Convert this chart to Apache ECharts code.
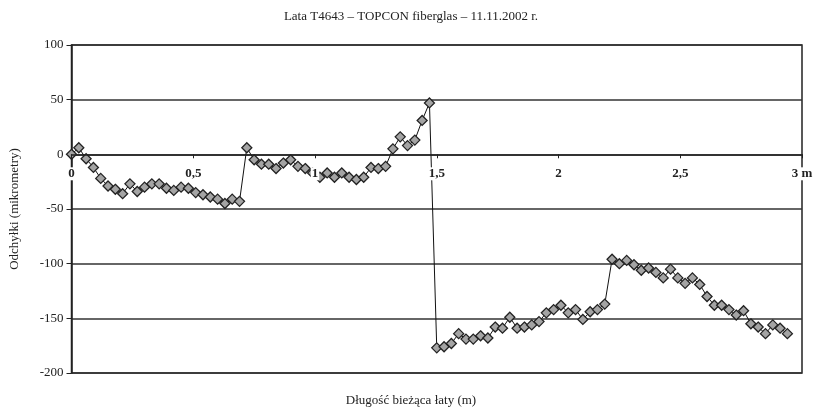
<!DOCTYPE html>
<html>
<head>
<meta charset="utf-8">
<script src="https://cdn.jsdelivr.net/npm/echarts@6/dist/echarts.min.js"></script>
<style>
  html, body { margin: 0; padding: 0; background: #fff; }
  #chart { width: 822px; height: 414px; }
</style>
</head>
<body>
<div id="chart"></div>
<script>
// pozycja na łacie (m)
var positions = [
  0, 0.03, 0.06, 0.09, 0.12, 0.15, 0.18, 0.21, 0.24, 0.27,
  0.30, 0.33, 0.36, 0.39, 0.42, 0.45, 0.48, 0.51, 0.54, 0.57,
  0.60, 0.63, 0.66, 0.69, 0.72, 0.75, 0.78, 0.81, 0.84, 0.87,
  0.90, 0.93, 0.96, 0.99, 1.02, 1.05, 1.08, 1.11, 1.14, 1.17,
  1.20, 1.23, 1.26, 1.29, 1.32, 1.35, 1.38, 1.41, 1.44, 1.47,
  1.50, 1.53, 1.56, 1.59, 1.62, 1.65, 1.68, 1.71, 1.74, 1.77,
  1.80, 1.83, 1.86, 1.89, 1.92, 1.95, 1.98, 2.01, 2.04, 2.07,
  2.10, 2.13, 2.16, 2.19, 2.22, 2.25, 2.28, 2.31, 2.34, 2.37,
  2.40, 2.43, 2.46, 2.49, 2.52, 2.55, 2.58, 2.61, 2.64, 2.67,
  2.70, 2.73, 2.76, 2.79, 2.82, 2.85, 2.88, 2.91, 2.94
]
// odchyłki (mikrometry)
var deviations = [
  0, 6, -4, -12, -22, -29, -32, -36, -27, -34,
  -30, -27, -27, -31, -33, -30, -31, -35, -37, -39,
  -41, -45, -41, -43, 6, -5, -9, -9, -13, -8,
  -5, -11, -13, -17, -21, -17, -21, -17, -21, -23,
  -21, -12, -13, -11, 5, 16, 8, 13, 31, 47,
  -177, -176, -173, -164, -169, -169, -166, -168, -158, -159,
  -149, -159, -158, -156, -153, -145, -142, -138, -145, -142,
  -151, -144, -142, -137, -96, -100, -97, -101, -106, -104,
  -108, -113, -105, -113, -118, -113, -119, -130, -138, -138,
  -142, -147, -143, -155, -158, -164, -156, -159, -164
]
var xTicks = ['0', '0,5', '1', '1,5', '2', '2,5', '3 m']

var chart = echarts.init(document.getElementById('chart'))
var serif = '"Liberation Serif", "DejaVu Serif", serif'

chart.setOption({
  backgroundColor: '#fff',
  animation: false,
  textStyle: { fontFamily: serif },
  title: [
    {
      text: 'Lata T4643 – TOPCON fiberglas – 11.11.2002 r.',
      left: 'center',
      top: 5,
      textStyle: { fontFamily: serif, fontSize: 13, fontWeight: 'normal', color: '#222' }
    },
    {
      text: 'Długość bieżąca łaty (m)',
      left: 'center',
      top: 389,
      textStyle: { fontFamily: serif, fontSize: 13, fontWeight: 'normal', color: '#222' }
    }
  ],
  grid: {
    left: 71.5,
    right: 20,
    top: 45,
    bottom: 41,
    show: true,
    borderColor: '#222',
    borderWidth: 1.5
  },
  xAxis: {
    type: 'value',
    min: 0,
    max: 3,
    interval: 0.5,
    position: 'top',
    // oś X przechodzi przez zero osi Y
    offset: -109.3,
    z: 5,
    axisLine: { onZero: false, lineStyle: { color: '#222', width: 1.5 } },
    axisTick: { show: true, inside: true, length: 4, lineStyle: { color: '#222' } },
    axisLabel: {
      inside: true,
      margin: 13,
      fontFamily: serif,
      fontSize: 13,
      fontWeight: 'bold',
      color: '#222',
      backgroundColor: '#fff',
      padding: [0, 1],
      formatter: function(v) {
        return xTicks[Math.round(v / 0.5)]
      }
    },
    splitLine: { show: false }
  },
  yAxis: {
    type: 'value',
    min: -200,
    max: 100,
    interval: 50,
    name: 'Odchyłki (mikrometry)',
    nameLocation: 'middle',
    nameGap: 50,
    nameTextStyle: { fontFamily: serif, fontSize: 13, color: '#222' },
    axisLine: { show: true, lineStyle: { color: '#222', width: 1.5 } },
    axisTick: { show: true, length: 5, lineStyle: { color: '#222' } },
    axisLabel: { margin: 8, fontFamily: serif, fontSize: 13, color: '#222' },
    splitLine: { show: true, lineStyle: { color: '#333', width: 1.5 } }
  },
  series: [
    {
      type: 'line',
      data: positions.map(function(x, i) { return [x, deviations[i]] }),
      symbol: 'diamond',
      symbolSize: 10,
      lineStyle: { color: '#111', width: 1 },
      itemStyle: { color: '#a4a4a4', borderColor: '#222', borderWidth: 1.3 }
    }
  ]
})
</script>
</body>
</html>
